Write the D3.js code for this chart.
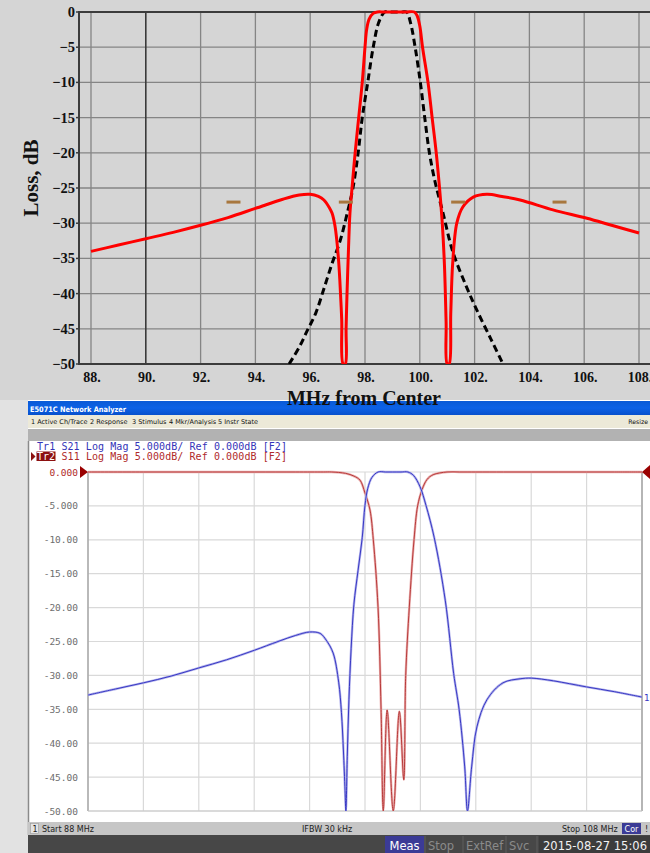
<!DOCTYPE html>
<html>
<head>
<meta charset="utf-8">
<script src="https://cdn.jsdelivr.net/npm/d3@7"></script>
<style>
  body { margin: 0; background: #d5d5d5; }
  svg { display: block; }
</style>
</head>
<body>
<div id="chart"></div>
<script>
// ---- top plot: simulated filter (MHz from center vs loss) ----
const simFreq = [88, 89, 90, 91, 92, 93, 94, 95, 95.6, 96, 96.3, 96.5, 96.7, 96.8, 96.9, 96.97, 97.04, 97.08, 97.15, 97.2,
    97.28, 97.31, 97.34, 97.4, 97.45, 97.52, 97.64, 97.77, 97.9, 98.0, 98.06, 98.15, 98.3, 98.45, 98.7, 99.1, 99.5, 99.8, 99.9, 100.0, 100.1, 100.3,
    100.45, 100.6, 100.72, 100.82, 100.9, 100.96, 101.0, 101.07, 101.13, 101.2, 101.35, 101.57, 101.95, 102.45, 103.0, 103.66,
    104.86, 106.1, 107.0, 108];
const simLoss = [-34, -33.1, -32.2, -31.3, -30.3, -29.2, -27.9, -26.6, -26.0, -25.9, -26.2, -26.7, -27.8, -28.6, -30.3, -32.4, -35.5, -38, -43.7, -50,
    -50, -45, -40.5, -33.4, -28.6, -25.3, -20, -15, -10, -5, -2.5, -1, -0.2, 0, 0, 0, 0, 0, -0.5, -2, -5, -10,
    -15, -20, -25, -30, -36, -44, -50, -50, -42.8, -35.7, -30, -27.7, -26.3, -25.9, -26.2, -26.7,
    -28.1, -29.3, -30.3, -31.4];

const modelFreq = [95.23, 95.6, 95.9, 96.2, 96.5, 96.8, 97.1, 97.35, 97.56, 97.75, 97.9, 98.1, 98.3, 98.5, 98.72, 98.95, 99.15, 99.35, 99.52, 99.66,
    99.83, 100.02, 100.18, 100.35, 100.55, 100.85, 101.2, 101.7, 102.1, 102.6, 103.0];
const modelLoss = [-50, -47.6, -45.2, -42.8, -39.3, -35.7, -32.4, -28.6, -25, -20, -15, -10, -5, -1.5, 0, 0, 0, 0, 0, -1.5,
    -5, -10, -15, -20, -24, -28.6, -34, -39, -42.5, -46.5, -49.7];

const markerFreq = [93.2, 97.3, 101.4, 105.1];
const markerLoss = [-27, -27, -27, -27];

const topXTicks = [88, 90, 92, 94, 96, 98, 100, 102, 104, 106, 108];
const topYTicks = [0, -5, -10, -15, -20, -25, -30, -35, -40, -45, -50];

// ---- bottom: E5071C measurement ----
const s21Freq = [88, 89, 90, 91, 92, 93, 94, 94.86, 95.5, 96, 96.38, 96.6, 96.85, 97.05, 97.15, 97.22, 97.28, 97.31, 97.36, 97.42,
    97.5, 97.6, 97.75, 97.9, 98.0, 98.1, 98.25, 98.47, 98.75, 99.0, 99.3, 99.55, 99.75, 99.99, 100.2, 100.5, 100.9, 101.2, 101.4, 101.6, 101.7,
    101.85, 102.04, 102.4, 102.98, 103.6, 104.0, 104.8, 106, 107, 108];
const s21Loss = [-32.9, -32, -31.1, -30.1, -28.9, -27.7, -26.3, -25, -24.1, -23.6, -23.8, -24.8, -26.7, -31, -35.5, -41, -47, -50, -42, -33.6,
    -26, -19.5, -14.5, -9.7, -4.9, -2.4, -0.8, 0, 0, 0, 0, 0, -0.5, -2.2, -4.9, -9.7, -19, -29.7, -35.1, -43.5, -50,
    -43.5, -37.6, -33.6, -31.1, -30.5, -30.4, -30.8, -31.7, -32.4, -33.2];

const s11Freq = [88, 90, 92, 94, 95.5, 96.5, 96.8, 97.3, 97.6, 97.82, 98.0, 98.18, 98.3, 98.47, 98.58, 98.66, 98.8, 99.02, 99.24, 99.4, 99.47, 99.6,
    99.77, 99.9, 100.06, 100.24, 100.46, 100.96, 101.4, 102, 103, 104, 105, 106, 107, 108];
const s11Loss = [0, 0, 0, 0, 0, 0, 0, -0.2, -0.6, -1.2, -3.1, -5.6, -10, -19.9, -35, -50, -35.1, -50, -35.3, -45.4, -30, -19.9,
    -10, -5, -2.6, -1.1, -0.4, 0, 0, 0, 0, 0, 0, 0, 0, 0];

const vnaYTicks = [0, -5, -10, -15, -20, -25, -30, -35, -40, -45, -50];
const vnaYLabels = ["0.000", "-5.000", "-10.00", "-15.00", "-20.00", "-25.00", "-30.00", "-35.00", "-40.00", "-45.00", "-50.00"];
const vnaXGrid = [88, 90, 92, 94, 96, 98, 100, 102, 104, 106, 108];

const menuItems = ["1 Active Ch/Trace", "2 Response", "3 Stimulus", "4 Mkr/Analysis", "5 Instr State"];
const menuX = [31, 90, 132, 169, 218];
const softkeys = ["Stop", "ExtRef", "Svc"];
const softkeyX = [428, 466, 509];

const W = 650, H = 853;
const svg = d3.select("#chart").append("svg")
    .attr("width", W)
    .attr("height", H);

const serif = "'Liberation Serif', 'DejaVu Serif', serif";
const mono = "'DejaVu Sans Mono', 'Liberation Mono', monospace";
const sans = "'DejaVu Sans', 'Liberation Sans', sans-serif";

// ================= TOP PLOT =================
const x1 = d3.scaleLinear().domain([88, 108]).range([91, 639]);
const y1 = d3.scaleLinear().domain([-50, 0]).range([364, 12]);
const left1 = 79, right1 = 650;

svg.append("rect").attr("x", 0).attr("y", 0).attr("width", W).attr("height", 400).attr("fill", "#d5d5d5");

const grid1 = svg.append("g");
grid1.selectAll("line.h")
    .data(topYTicks)
    .join("line")
    .attr("class", "h")
    .attr("x1", left1).attr("x2", right1)
    .attr("y1", d => y1(d)).attr("y2", d => y1(d))
    .attr("stroke", "#858585")
    .attr("stroke-width", 1.3);
grid1.selectAll("line.v")
    .data(topXTicks)
    .join("line")
    .attr("class", "v")
    .attr("x1", d => x1(d)).attr("x2", d => x1(d))
    .attr("y1", y1(0)).attr("y2", y1(-50))
    .attr("stroke", d => d === 90 ? "#3a3a3a" : "#858585")
    .attr("stroke-width", d => d === 90 ? 1.6 : 1.3);

// frame
svg.append("path")
    .attr("d", `M${right1},${y1(0)}H${left1}V${y1(-50)}H${right1}`)
    .attr("fill", "none")
    .attr("stroke", "#3c3c3c")
    .attr("stroke-width", 2);

// y ticks and labels
svg.append("g").selectAll("line")
    .data(topYTicks)
    .join("line")
    .attr("x1", left1 - 3).attr("x2", left1)
    .attr("y1", d => y1(d)).attr("y2", d => y1(d))
    .attr("stroke", "#3c3c3c").attr("stroke-width", 1.5);
svg.append("g").selectAll("text")
    .data(topYTicks)
    .join("text")
    .attr("x", 75)
    .attr("y", d => y1(d) + 5)
    .attr("text-anchor", "end")
    .style("font-family", serif)
    .style("font-weight", "bold")
    .style("font-size", "14.5px")
    .attr("fill", "#111")
    .text(d => d === 0 ? "0" : "\u2212" + Math.abs(d));

svg.append("g").selectAll("text")
    .data(topXTicks)
    .join("text")
    .attr("x", d => x1(d) + 1)
    .attr("y", 382)
    .attr("text-anchor", "middle")
    .style("font-family", serif)
    .style("font-weight", "bold")
    .style("font-size", "14px")
    .attr("fill", "#111")
    .text(d => d + ".");

svg.append("text")
    .attr("transform", "translate(38,178) rotate(-90)")
    .attr("text-anchor", "middle")
    .style("font-family", serif)
    .style("font-weight", "bold")
    .style("font-size", "21px")
    .attr("fill", "#111")
    .text("Loss, dB");

// curves
svg.append("clipPath").attr("id", "clip1")
    .append("rect").attr("x", left1).attr("y", 6).attr("width", right1 - left1).attr("height", y1(-50) - 6);

const line1 = d3.line()
    .x(i => x1(i[0]))
    .y(i => y1(i[1]))
    .curve(d3.curveCatmullRom.alpha(0.5));

const plot1 = svg.append("g").attr("clip-path", "url(#clip1)");
plot1.append("path")
    .attr("d", line1(modelFreq.map((f, i) => [f, modelLoss[i]])))
    .attr("fill", "none")
    .attr("stroke", "#000")
    .attr("stroke-width", 3)
    .attr("stroke-dasharray", "7,4");
plot1.append("path")
    .attr("d", line1(simFreq.map((f, i) => [f, simLoss[i]])))
    .attr("fill", "none")
    .attr("stroke", "#ff0000")
    .attr("stroke-width", 3)
    .attr("stroke-linejoin", "round");

svg.append("g").selectAll("line")
    .data(markerFreq)
    .join("line")
    .attr("x1", d => x1(d) - 7).attr("x2", d => x1(d) + 7)
    .attr("y1", (d, i) => y1(markerLoss[i])).attr("y2", (d, i) => y1(markerLoss[i]))
    .attr("stroke", "#a8773e")
    .attr("stroke-width", 3);

// ================= ANALYZER WINDOW =================
svg.append("rect").attr("x", 0).attr("y", 400).attr("width", 28).attr("height", H - 400).attr("fill", "#e2e2e2");

const win = svg.append("g");
win.append("rect").attr("x", 28).attr("y", 400).attr("width", W - 28).attr("height", H - 400).attr("fill", "#fff");

const grad = svg.append("defs").append("linearGradient")
    .attr("id", "titleGrad").attr("x1", 0).attr("x2", 0).attr("y1", 0).attr("y2", 1);
grad.append("stop").attr("offset", "0%").attr("stop-color", "#0a5ad6");
grad.append("stop").attr("offset", "50%").attr("stop-color", "#0c62e6");
grad.append("stop").attr("offset", "100%").attr("stop-color", "#0750cc");

win.append("rect").attr("x", 28).attr("y", 401).attr("width", W - 28).attr("height", 14).attr("fill", "url(#titleGrad)");
win.append("text")
    .attr("x", 30).attr("y", 411.5)
    .style("font-family", sans).style("font-weight", "bold").style("font-size", "7.5px")
    .attr("textLength", 96).attr("lengthAdjust", "spacingAndGlyphs")
    .attr("fill", "#fff")
    .text("E5071C Network Analyzer");

win.append("rect").attr("x", 28).attr("y", 415).attr("width", W - 28).attr("height", 13).attr("fill", "#ece9d8");
win.selectAll("text.menu")
    .data(menuItems)
    .join("text")
    .attr("class", "menu")
    .attr("x", (d, i) => menuX[i]).attr("y", 424)
    .style("font-family", sans).style("font-size", "6.5px")
    .attr("fill", "#111")
    .text(d => d);
win.append("text")
    .attr("x", 648).attr("y", 424)
    .attr("text-anchor", "end")
    .style("font-family", sans).style("font-size", "6.2px")
    .attr("fill", "#111")
    .text("Resize");
win.append("rect").attr("x", 28).attr("y", 429).attr("width", W - 28).attr("height", 12).attr("fill", "#b2b2b2");

// left window border
win.append("line").attr("x1", 28.5).attr("x2", 28.5).attr("y1", 441).attr("y2", 835)
    .attr("stroke", "#8a8a8a").attr("stroke-width", 1.5);

// trace titles
win.append("text")
    .attr("x", 37).attr("y", 450)
    .style("font-family", mono).style("font-size", "10px")
    .attr("textLength", 250).attr("lengthAdjust", "spacing")
    .attr("fill", "#3434b8")
    .text("Tr1 S21 Log Mag 5.000dB/ Ref 0.000dB [F2]");
win.append("rect").attr("x", 36.5).attr("y", 451.5).attr("width", 19).attr("height", 9.5).attr("fill", "#8c1010");
win.append("path").attr("d", "M31,452 L35.5,456.5 L31,461 Z").attr("fill", "#8c1010");
win.append("text")
    .attr("x", 61.5).attr("y", 459.5)
    .style("font-family", mono).style("font-size", "10px")
    .attr("textLength", 225.5).attr("lengthAdjust", "spacing")
    .attr("fill", "#b02a2a")
    .text("S11 Log Mag 5.000dB/ Ref 0.000dB [F2]");
win.append("text")
    .attr("x", 37).attr("y", 459.5)
    .style("font-family", mono).style("font-size", "10px")
    .attr("textLength", 18).attr("lengthAdjust", "spacing")
    .attr("fill", "#fff")
    .text("Tr2");

const x2 = d3.scaleLinear().domain([88, 108]).range([88, 642]);
const y2 = d3.scaleLinear().domain([-50, 0]).range([811, 472]);

win.selectAll("line.gh")
    .data(vnaYTicks)
    .join("line")
    .attr("class", "gh")
    .attr("x1", x2(88)).attr("x2", x2(108))
    .attr("y1", d => y2(d)).attr("y2", d => y2(d))
    .attr("stroke", "#d9d9d9").attr("stroke-width", 1.2);
win.selectAll("line.gv")
    .data(vnaXGrid)
    .join("line")
    .attr("class", "gv")
    .attr("x1", d => x2(d)).attr("x2", d => x2(d))
    .attr("y1", y2(0)).attr("y2", y2(-50))
    .attr("stroke", "#d9d9d9").attr("stroke-width", 1.2);
win.append("line").attr("x1", x2(88)).attr("x2", x2(88)).attr("y1", y2(0)).attr("y2", y2(-50))
    .attr("stroke", "#a0a0a0").attr("stroke-width", 1.3);
win.append("line").attr("x1", x2(108)).attr("x2", x2(108)).attr("y1", y2(0)).attr("y2", y2(-50))
    .attr("stroke", "#b5b5b5").attr("stroke-width", 2);
win.append("line").attr("x1", x2(88)).attr("x2", x2(108)).attr("y1", y2(-50)).attr("y2", y2(-50))
    .attr("stroke", "#c8c8c8").attr("stroke-width", 1.2);

win.selectAll("text.yl")
    .data(vnaYLabels)
    .join("text")
    .attr("class", "yl")
    .attr("x", 78)
    .attr("y", (d, i) => y2(vnaYTicks[i]) + 3.5)
    .attr("text-anchor", "end")
    .style("font-family", mono).style("font-size", "9.5px")
    .attr("fill", (d, i) => i === 0 ? "#b02a2a" : "#6e6e6e")
    .text(d => d);

// reference pointers
win.append("path").attr("d", `M80,${y2(0) - 6} L88,${y2(0)} L80,${y2(0) + 6} Z`).attr("fill", "#9a0000");
win.append("path").attr("d", `M650,${y2(0) - 7} L642,${y2(0)} L650,${y2(0) + 7} Z`).attr("fill", "#9a0000");

svg.append("clipPath").attr("id", "clip2")
    .append("rect").attr("x", x2(88)).attr("y", y2(0) - 3).attr("width", x2(108) - x2(88)).attr("height", y2(-50) - y2(0) + 3);

const line2 = d3.line()
    .x(i => x2(i[0]))
    .y(i => y2(i[1]))
    .curve(d3.curveCatmullRom.alpha(0.5));

const plot2 = win.append("g").attr("clip-path", "url(#clip2)");
const s21 = s21Freq.map((f, i) => [f, s21Loss[i]]);
const s11 = s11Freq.map((f, i) => [f, s11Loss[i]]);
plot2.append("path").attr("d", line2(s11)).attr("fill", "none").attr("stroke", "#eab0b0").attr("stroke-width", 2.4);
plot2.append("path").attr("d", line2(s11)).attr("fill", "none").attr("stroke", "#b83a3a").attr("stroke-width", 1);
plot2.append("path").attr("d", line2(s21)).attr("fill", "none").attr("stroke", "#b4b4ec").attr("stroke-width", 2.4);
plot2.append("path").attr("d", line2(s21)).attr("fill", "none").attr("stroke", "#3838c4").attr("stroke-width", 1);

win.append("text")
    .attr("x", 644).attr("y", y2(s21Loss[s21Loss.length - 1]) + 3.5)
    .style("font-family", sans).style("font-size", "9px")
    .attr("fill", "#3838c4")
    .text("1");

// status bar
win.append("rect").attr("x", 28).attr("y", 822).attr("width", W - 28).attr("height", 13).attr("fill", "#c6c6c6");
win.append("rect").attr("x", 30.5).attr("y", 823.5).attr("width", 8).attr("height", 10).attr("fill", "#e4e4e4").attr("stroke", "#9a9a9a").attr("stroke-width", 0.6);
const status = [["1", 32.5], ["Start 88 MHz", 42], ["IFBW 30 kHz", 302], ["Stop 108 MHz", 562]];
win.selectAll("text.st")
    .data(status)
    .join("text")
    .attr("class", "st")
    .attr("x", d => d[1]).attr("y", 832)
    .style("font-family", sans).style("font-size", "8px")
    .attr("fill", "#222")
    .text(d => d[0]);
win.append("rect").attr("x", 622).attr("y", 823).attr("width", 19).attr("height", 11).attr("fill", "#3b3b96");
win.append("text").attr("x", 631.5).attr("y", 832).attr("text-anchor", "middle")
    .style("font-family", sans).style("font-size", "8px").attr("fill", "#fff").text("Cor");
win.append("text").attr("x", 645).attr("y", 832)
    .style("font-family", sans).style("font-size", "8px").attr("fill", "#222").text("!");

// softkey bar
win.append("rect").attr("x", 28).attr("y", 835).attr("width", W - 28).attr("height", 18).attr("fill", "#474747");
win.append("rect").attr("x", 385).attr("y", 836).attr("width", 39).attr("height", 17).attr("fill", "#3b3b96");
win.append("text").attr("x", 404.5).attr("y", 849.5).attr("text-anchor", "middle")
    .style("font-family", sans).style("font-size", "11.5px").attr("fill", "#fff").text("Meas");
win.selectAll("text.sk")
    .data(softkeys)
    .join("text")
    .attr("class", "sk")
    .attr("x", (d, i) => softkeyX[i]).attr("y", 849.5)
    .style("font-family", sans).style("font-size", "11.5px")
    .attr("fill", "#8a8a8a")
    .text(d => d);
win.selectAll("line.sep")
    .data([425, 463, 506, 537])
    .join("line")
    .attr("class", "sep")
    .attr("x1", d => d).attr("x2", d => d).attr("y1", 836).attr("y2", 853)
    .attr("stroke", "#5e5e5e").attr("stroke-width", 1);
win.append("rect").attr("x", 539).attr("y", 836).attr("width", 111).attr("height", 17).attr("fill", "#3c3c3c");
win.append("text").attr("x", 543).attr("y", 850)
    .style("font-family", sans).style("font-size", "12.5px").attr("fill", "#f2f2f2")
    .attr("textLength", 104).attr("lengthAdjust", "spacingAndGlyphs")
    .text("2015-08-27 15:06");

// x label drawn last, it overlaps the window title bar
svg.append("text")
    .attr("x", 364).attr("y", 405)
    .attr("text-anchor", "middle")
    .style("font-family", serif)
    .style("font-weight", "bold")
    .style("font-size", "20px")
    .attr("fill", "#111")
    .text("MHz from Center");
</script>
</body>
</html>
